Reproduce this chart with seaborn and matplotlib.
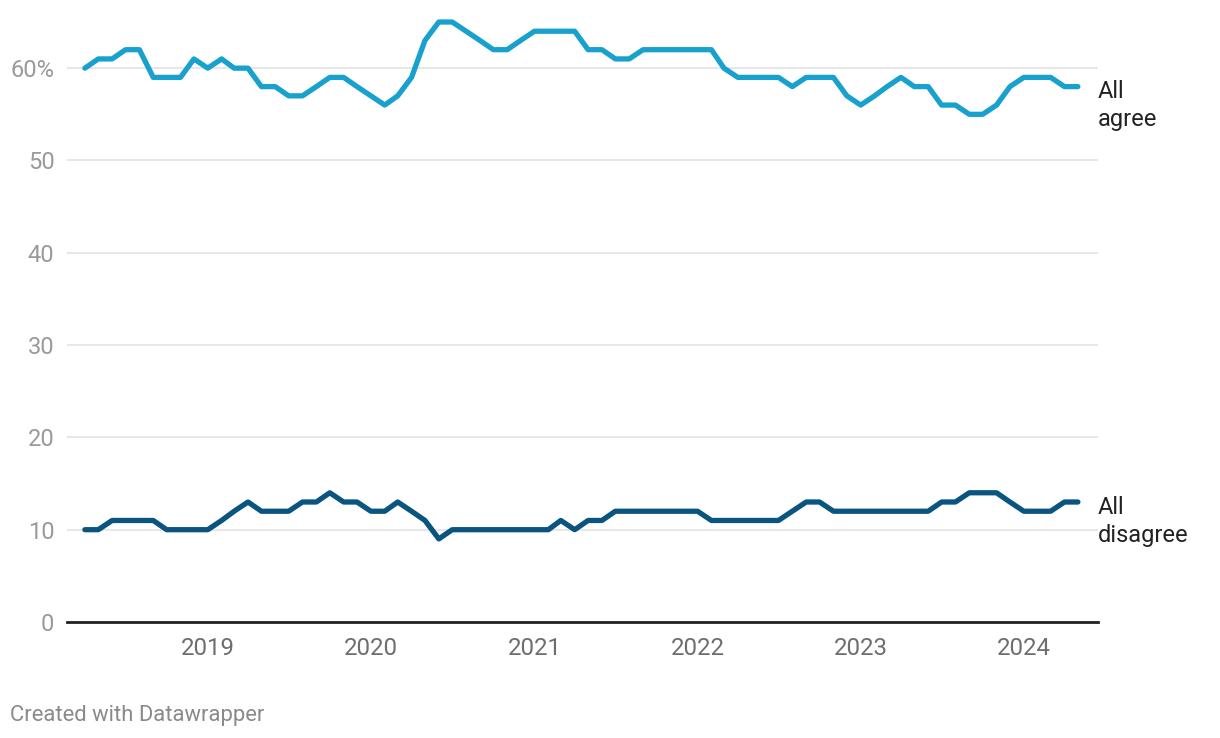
import matplotlib
matplotlib.use("Agg")
import numpy as np
import pandas as pd
import matplotlib.pyplot as plt
import seaborn as sns

# ---- data ----
months = pd.date_range("2018-04-01", periods=74, freq="MS")
agree = [60, 61, 61, 62, 62, 59, 59, 59, 61, 60, 61, 60, 60, 58, 58, 57, 57, 58, 59, 59,
         58, 57, 56, 57, 59, 63, 65, 65, 64, 63, 62, 62, 63, 64, 64, 64, 64, 62, 62, 61,
         61, 62, 62, 62, 62, 62, 62, 60, 59, 59, 59, 59, 58, 59, 59, 59, 57, 56, 57, 58,
         59, 58, 58, 56, 56, 55, 55, 56, 58, 59, 59, 59, 58, 58]
disagree = [10, 10, 11, 11, 11, 11, 10, 10, 10, 10, 11, 12, 13, 12, 12, 12, 13, 13, 14, 13,
            13, 12, 12, 13, 12, 11, 9, 10, 10, 10, 10, 10, 10, 10, 10, 11, 10, 11, 11, 12,
            12, 12, 12, 12, 12, 12, 11, 11, 11, 11, 11, 11, 12, 13, 13, 12, 12, 12, 12, 12,
            12, 12, 12, 13, 13, 14, 14, 14, 13, 12, 12, 12, 13, 13]
series_names = ["All agree", "All disagree"]
series_labels = ["All\nagree", "All\ndisagree"]
series_colors = ["#18a1cd", "#09557f"]
y_ticks = [0, 10, 20, 30, 40, 50, 60]
y_tick_labels = ["0", "10", "20", "30", "40", "50", "60%"]
x_years = [2019, 2020, 2021, 2022, 2023, 2024]

sns.set_theme(style="white")
plt.rcParams['font.family'] = ['Roboto', 'DejaVu Sans']

df = pd.DataFrame({
    "date": list(months) * 2,
    "value": agree + disagree,
    "series": [series_names[0]] * len(agree) + [series_names[1]] * len(disagree),
})

W, H = 1220, 738
fig = plt.figure(figsize=(W / 100, H / 100), dpi=100)
ax = fig.add_axes([67 / W, 116 / H, (1098 - 67) / W, 600 / H])

sns.lineplot(data=df, x="date", y="value", hue="series", hue_order=series_names,
             palette=dict(zip(series_names, series_colors)), linewidth=3.8,
             legend=False, ax=ax)
for ln in ax.get_lines():
    ln.set_solid_joinstyle("round")
    ln.set_solid_capstyle("round")
    ln.set_clip_on(False)
    ln.set_zorder(3)

ax.set_xlim(months[0] - pd.Timedelta(days=40), months[-1] + pd.Timedelta(days=45))
ax.set_ylim(0, 65)

ax.set_yticks(y_ticks)
ax.set_yticklabels(y_tick_labels)
ax.set_xticks([pd.Timestamp(f"{y}-01-01") for y in x_years])
ax.set_xticklabels([str(y) for y in x_years])

ax.yaxis.grid(True, color="#e3e3e3", linewidth=1.2)
ax.xaxis.grid(False)
for s in ["top", "right", "left"]:
    ax.spines[s].set_visible(False)
ax.spines["bottom"].set_color("#222222")
ax.spines["bottom"].set_linewidth(2)
ax.spines["bottom"].set_zorder(4)

ax.tick_params(axis="y", length=0, pad=9, labelsize=17, labelcolor="#9a9a9a")
ax.tick_params(axis="x", length=0, pad=11, labelsize=17.3, labelcolor="#6e6e6e")
ax.set_xlabel("")
ax.set_ylabel("")

for name, lab, vals in zip(series_names, series_labels, [agree, disagree]):
    ax.annotate(lab, xy=(months[-1], vals[-1]), xytext=(14.4, 4.5),
                textcoords="offset points", ha="left", va="top",
                fontsize=17, color="#222222", linespacing=1.27,
                annotation_clip=False)

fig.text(10 / W, 1 - 715 / H, "Created with Datawrapper", ha="left", va="center",
         fontsize=15.8, color="#8a8a8a")

fig.savefig("out.png", dpi=100)
